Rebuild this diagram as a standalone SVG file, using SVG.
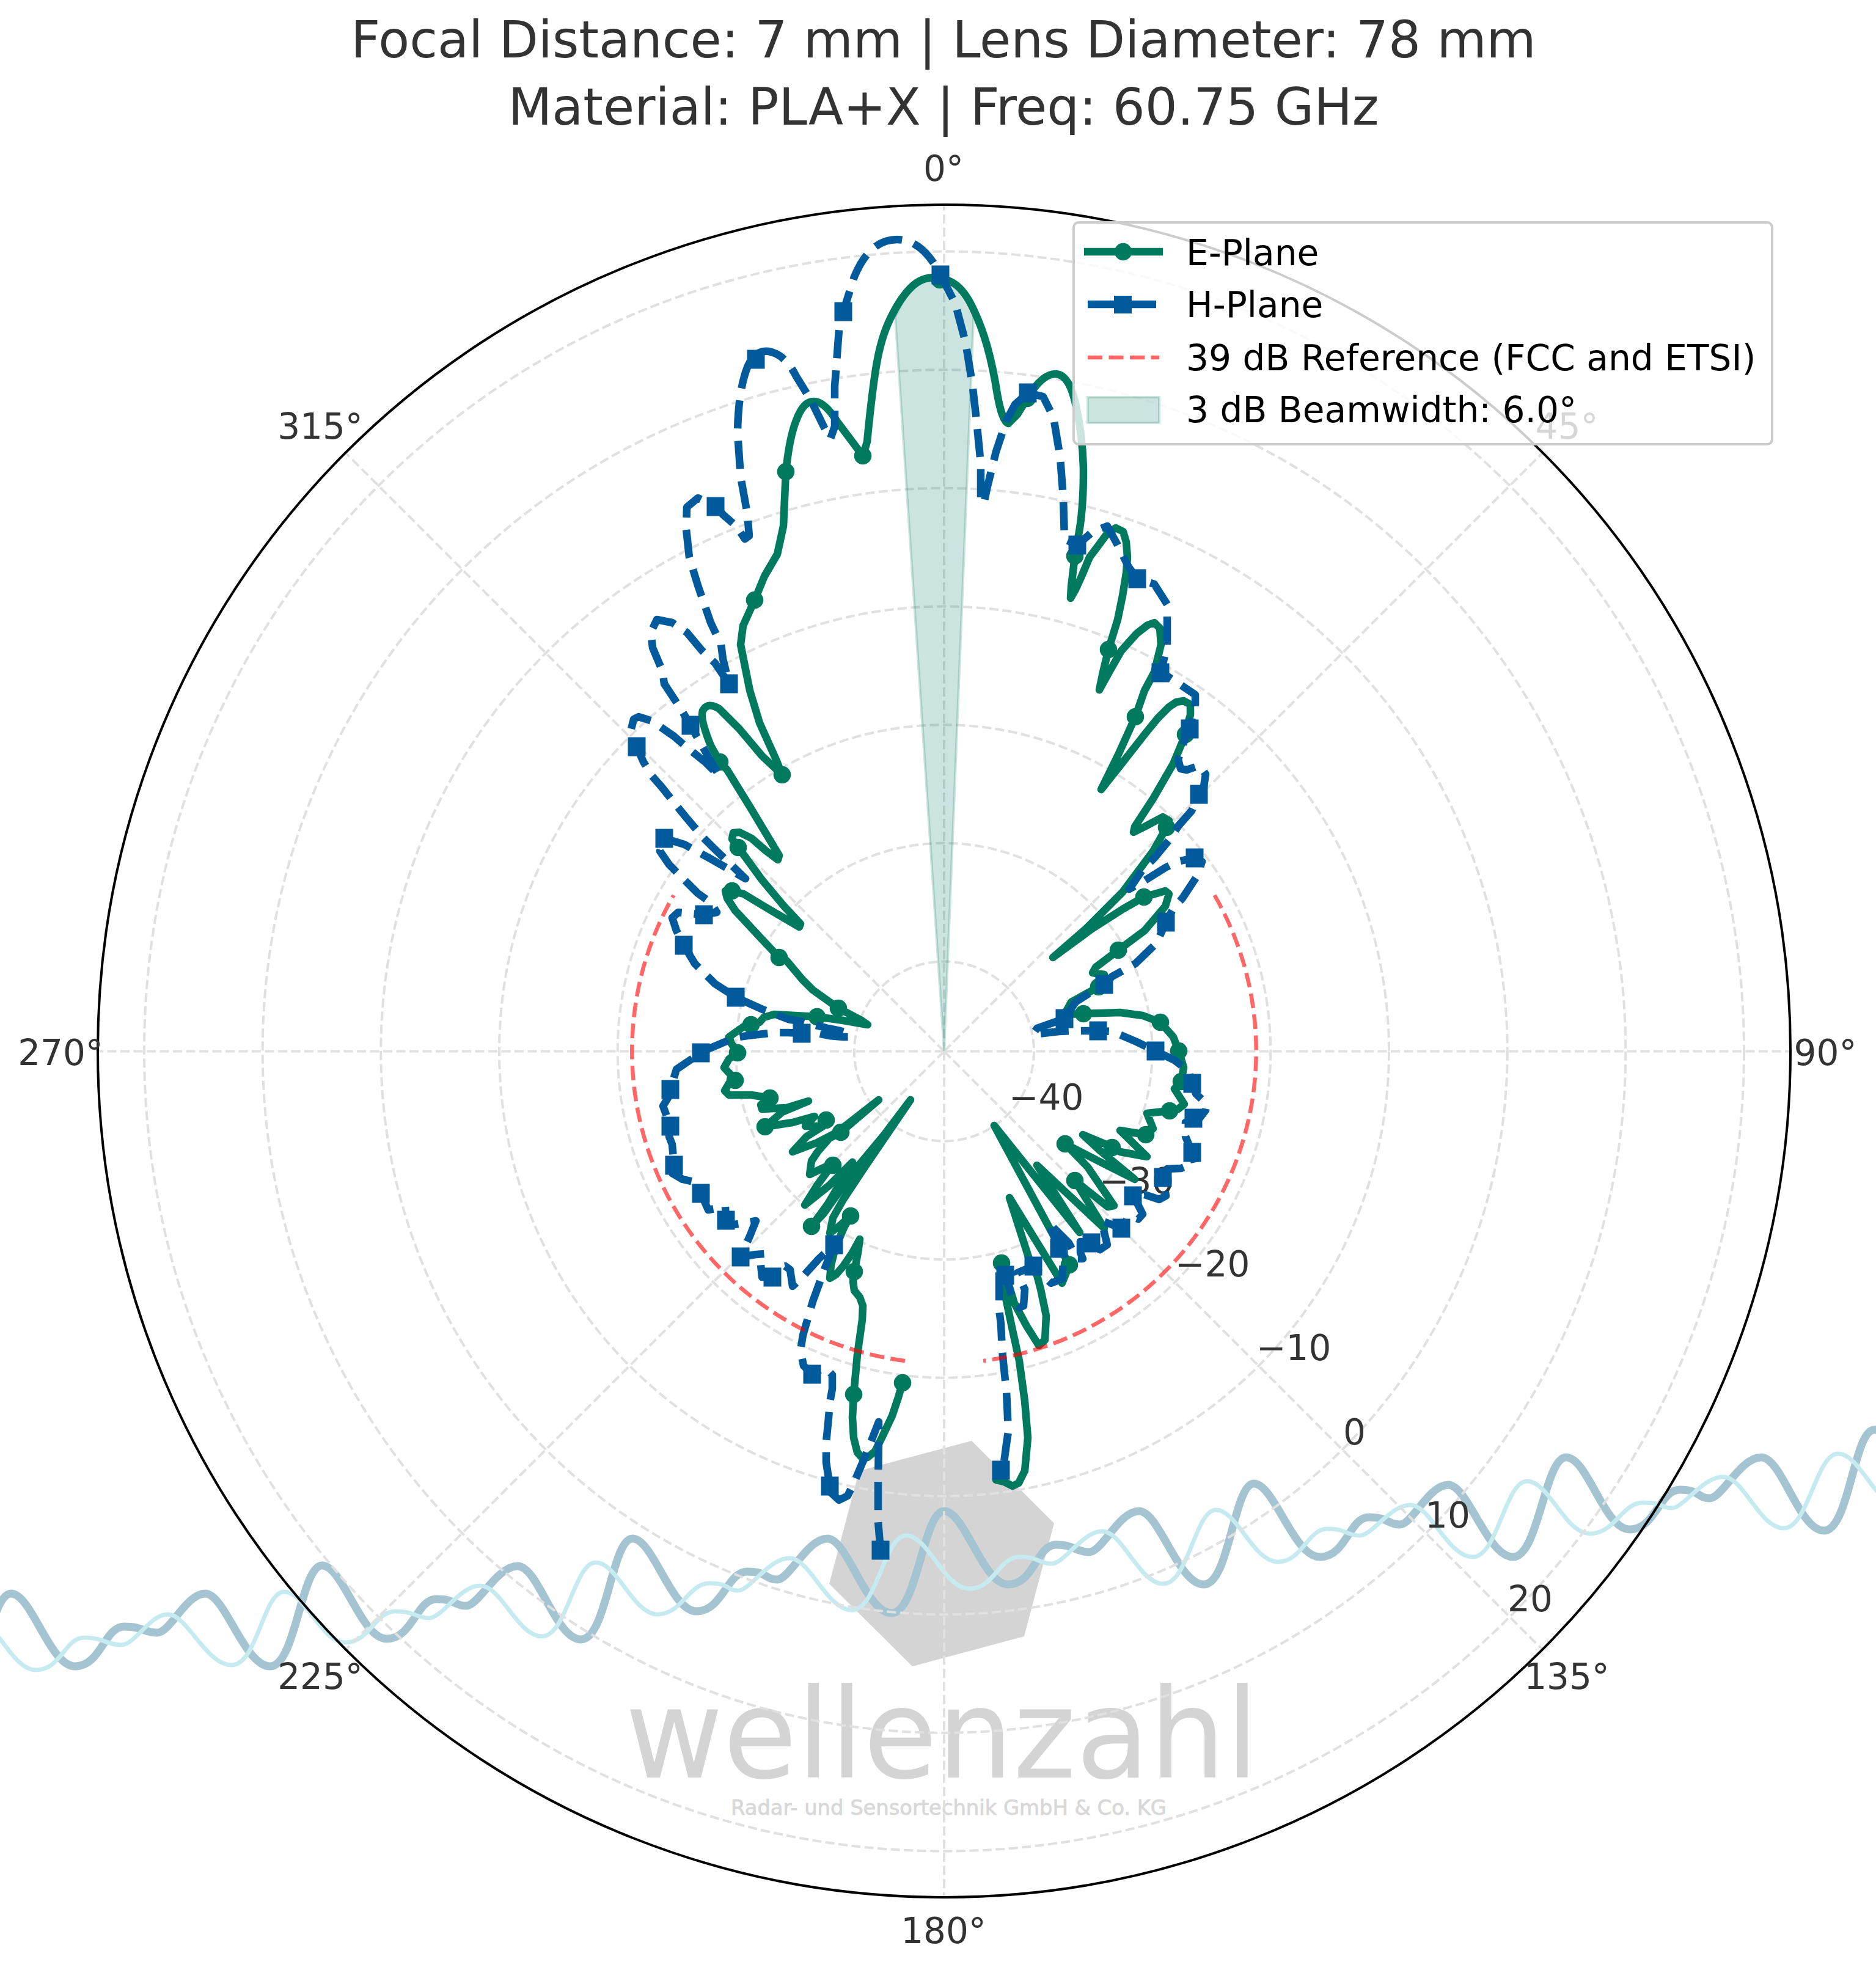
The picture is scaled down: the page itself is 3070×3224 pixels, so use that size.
<svg xmlns="http://www.w3.org/2000/svg" xmlns:xlink="http://www.w3.org/1999/xlink" width="3070" height="3224" viewBox="0 0 3070 3224">
<style>
text{font-family:"DejaVu Sans","Liberation Sans",sans-serif}
.title{font-size:83.3px;fill:#333;text-anchor:middle}
.tick{font-size:58px;fill:#333;text-anchor:middle}
.rtick{font-size:58px;fill:#333}
.leg{font-size:58.2px;fill:#000}
.grid{fill:none;stroke:#e0e0e0;stroke-width:4;stroke-dasharray:15 6.5}
.e{fill:none;stroke:#007a5e;stroke-width:12.5;stroke-linejoin:round;stroke-linecap:round}
.h{fill:none;stroke:#005a9c;stroke-width:12.5;stroke-linejoin:round;stroke-dasharray:46 20}
.ref{fill:none;stroke:#f00;stroke-opacity:.6;stroke-width:6.5;stroke-dasharray:24 10.5}
.em{fill:#007a5e}
.hm{fill:#005a9c}
</style>
<defs>
<circle id="c" r="14.3"/>
<rect id="s" x="-14.5" y="-15.5" width="29" height="31"/>
</defs>
<rect width="3070" height="3224" fill="#fff"/>
<g id="watermark">
<polygon points="1590,2358 1725,2493 1676,2678 1493,2727 1357,2592 1406,2407" fill="#d4d4d4"/>
<path fill="none" stroke="#a5c4d2" stroke-width="13" d="M-67 2773C-30 2773 -16 2608 18 2608S81 2727 123 2727S171 2662 203 2662S235 2672 257 2672S304 2608 336 2608S400 2727 442 2727S493 2562 527 2562S591 2682 633 2682S682 2617 714 2617S743 2628 763 2628S813 2563 847 2563S909 2683 951 2683S1001 2518 1035 2518S1098 2637 1140 2637S1190 2572 1223 2572S1252 2585 1272 2585S1321 2518 1354 2518S1417 2640 1459 2640S1511 2473 1545 2473S1608 2593 1650 2593S1697 2528 1728 2528S1760 2540 1782 2540S1831 2473 1864 2473S1928 2593 1970 2593S2019 2428 2052 2428S2117 2548 2160 2548S2208 2483 2240 2483S2271 2495 2291 2495S2338 2430 2370 2430S2434 2548 2476 2548S2528 2385 2563 2385S2625 2503 2667 2503S2716 2438 2749 2438S2778 2452 2798 2452S2848 2385 2882 2385S2944 2505 2985 2505S3034 2340 3067 2340S3117 2300 3150 2300"/>
<path fill="none" stroke="#c5ebf0" stroke-width="7" d="M-44 2650C-4 2650 18 2733 59 2733S106 2680 138 2680S174 2692 198 2692S244 2642 275 2642S337 2725 379 2725S431 2605 465 2605S525 2688 565 2688S614 2637 647 2637S680 2648 702 2648S752 2595 786 2595S847 2678 887 2678S940 2557 975 2557S1036 2642 1076 2642S1127 2591 1161 2591S1189 2603 1208 2603S1258 2550 1292 2550S1353 2635 1394 2635S1447 2513 1483 2513S1545 2600 1586 2600S1635 2548 1668 2548S1700 2559 1721 2559S1771 2506 1804 2506S1864 2592 1904 2592S1956 2471 1990 2471S2051 2556 2091 2556S2140 2502 2172 2502S2204 2513 2225 2513S2275 2463 2308 2463S2369 2548 2410 2548S2463 2424 2499 2424S2561 2510 2602 2510S2654 2459 2689 2459S2717 2468 2736 2468S2786 2417 2820 2417S2879 2501 2919 2501S2972 2379 3008 2379S3069 2465 3110 2465"/>
<text x="1023" y="2909" font-size="203" fill="#d4d4d4" textLength="1037" lengthAdjust="spacingAndGlyphs">wellenzahl</text>
<text x="1196" y="2970" font-size="34" fill="#d8d8d8" stroke="#d8d8d8" stroke-width=".8" textLength="713" lengthAdjust="spacingAndGlyphs">Radar- und Sensortechnik GmbH &amp; Co. KG</text>
</g>
<g id="grid">
<circle class="grid" cx="1545" cy="1720.5" r="147"/>
<circle class="grid" cx="1545" cy="1720.5" r="340.7"/>
<circle class="grid" cx="1545" cy="1720.5" r="534.3"/>
<circle class="grid" cx="1545" cy="1720.5" r="728"/>
<circle class="grid" cx="1545" cy="1720.5" r="921.7"/>
<circle class="grid" cx="1545" cy="1720.5" r="1115.3"/>
<circle class="grid" cx="1545" cy="1720.5" r="1309"/>
<path class="grid" d="M1545 1720.5V335.5M1545 1720.5L2524 741.5M1545 1720.5H2930M1545 1720.5L2524 2699.5M1545 1720.5V3105.5M1545 1720.5L566 2699.5M1545 1720.5H160M1545 1720.5L566 741.5"/>
</g>
<circle id="spine" cx="1545" cy="1720" r="1385" fill="none" stroke="#000" stroke-width="4"/>
<g id="tick-labels">
<text class="tick" x="1544" y="296">0°</text>
<text class="tick" x="2564" y="718">45°</text>
<text class="tick" x="2987" y="1743">90°</text>
<text class="tick" x="2564" y="2764">135°</text>
<text class="tick" x="1544" y="3180">180°</text>
<text class="tick" x="524" y="2764">225°</text>
<text class="tick" x="99" y="1743">270°</text>
<text class="tick" x="524" y="718">315°</text>
<text class="rtick" x="1651" y="1816">−40</text>
<text class="rtick" x="1799" y="1953">−30</text>
<text class="rtick" x="1923" y="2089">−20</text>
<text class="rtick" x="2056" y="2226">−10</text>
<text class="rtick" x="2198" y="2364">0</text>
<text class="rtick" x="2332" y="2500">10</text>
<text class="rtick" x="2467" y="2637">20</text>
</g>
<g id="connectors">
<polygon id="beamwidth" points="1545,1720 1465,519 1482,484 1500,467 1524,456 1538,456 1552,460 1566,468 1581,485 1593,507 1593,524" fill="#007a5e" fill-opacity=".2" stroke="#007a5e" stroke-opacity=".2" stroke-width="4"/>
<path id="e-plane" class="e" d="M1477,2263 1470,2287 1460,2317 1443,2353 1432,2375 1420,2385 1412,2387 1403,2377 1397,2353 1395,2320 1397,2282 1403,2217 1411,2160 1412,2137 1407,2123 1398,2112 1396,2097 1398,2081 1404,2050 1407,2028 1395,2050 1380,2072 1368,2086 1358,2092 1360,2070 1365,2050 1373,2028 1382,2007 1392,1990 1373,2007 1358,2018 1363,1993 1380,1963 1413,1913 1490,1800 1447,1857 1397,1917 1347,1987 1328,2007 1355,1970 1395,1902 1357,1940 1317,1972 1337,1940 1357,1913 1363,1907 1350,1910 1325,1922 1328,1900 1338,1885 1357,1863 1376,1853 1438,1800 1370,1853 1337,1870 1297,1885 1320,1860 1347,1843 1352,1833 1343,1843 1318,1843 1333,1827 1297,1837 1252,1844 1280,1820 1323,1802 1287,1813 1247,1815 1245,1808 1260,1797 1230,1792 1193,1792 1186,1785 1193,1773 1203,1768 1195,1758 1185,1747 1193,1733 1207,1723 1197,1708 1193,1697 1217,1680 1229,1677 1243,1673 1250,1665 1267,1660 1337,1664 1380,1670 1420,1677 1410,1670 1372,1650 1330,1620 1313,1603 1287,1572 1275,1567 1243,1533 1203,1490 1190,1470 1187,1458 1198,1458 1217,1463 1250,1483 1308,1517 1310,1512 1283,1483 1247,1440 1220,1403 1208,1387 1198,1373 1200,1363 1210,1362 1230,1372 1253,1392 1273,1407 1275,1400 1257,1370 1227,1320 1190,1260 1178,1247 1163,1220 Q1145,1175 1150,1163 Q1158,1148 1177,1160 L1210,1193 1247,1237 1280,1268 1270,1243 1243,1183 1227,1130 1221,1100 1212,1055 1216,1024 1235,982 1251,943 1272,907 1282,861 1286,772 Q1292,715 1303,688 Q1315,655 1333,657 Q1350,658 1370,690 L1412,746 1419,723 Q1426,650 1433,605 Q1440,560 1453,530 Q1466,500 1483,479 Q1500,458 1519,455 Q1538,452 1556,461 Q1575,470 1590,500 Q1605,530 1615,565 Q1625,600 1632,645 Q1640,690 1650,693 L1665,678 1681,652 Q1705,612 1727,612 Q1750,612 1761,665 Q1772,715 1773,770 Q1773,830 1766,870 L1759,910 1753,960 1752,979 1760,965 1770,943 1783,912 1798,892 1812,873 1826,864 1838,870 1843,887 1845,912 1843,938 1837,975 1829,1014 1814,1063 1805,1100 1799,1129 1815,1100 1835,1065 1860,1037 1878,1023 1889,1019 1898,1028 1900,1055 1889,1100 1873,1130 1858,1173 1830,1235 1802,1292 1833,1253 1855,1225 1877,1197 1895,1175 1913,1157 1925,1149 1937,1147 1948,1153 1948,1170 1945,1180 1940,1202 1920,1250 1887,1307 1857,1353 1855,1362 1873,1353 1903,1337 1913,1343 1909,1354 1887,1393 1837,1460 1777,1520 1723,1567 1787,1520 1837,1488 1872,1468 1907,1458 1913,1463 1907,1483 1873,1523 1830,1555 1793,1583 1788,1592 1807,1595 1798,1615 1780,1625 1753,1640 1742,1660 1773,1659 1833,1657 1870,1662 1899,1673 1920,1697 1929,1720 1937,1747 1933,1770 1922,1782 1938,1807 1928,1815 1914,1818 1877,1822 1887,1847 1875,1857 1833,1850 1877,1893 1833,1885 1820,1877 1772,1857 1800,1883 1857,1930 1817,1910 1743,1872 1780,1910 1823,1973 1813,1975 1759,1932 1807,2010 1697,1907 1767,2017 1627,1842 1750,2070 1738,2100 1652,1960 1683,2057 1691,2075 1697,2087 1703,2110 1712,2153 1710,2193 1700,2202 1680,2170 1660,2133 1650,2100 1639,2067 1645,2120 1657,2177 1668,2227 1677,2293 1682,2353 1677,2407 1667,2427 1657,2432 1643,2425 1630,2422"/>
<g id="e-markers" class="em">
<use href="#c" x="1477" y="2263"/><use href="#c" x="1397" y="2282"/><use href="#c" x="1398" y="2081"/><use href="#c" x="1392" y="1990"/><use href="#c" x="1328" y="2007"/><use href="#c" x="1363" y="1907"/><use href="#c" x="1376" y="1853"/><use href="#c" x="1352" y="1833"/><use href="#c" x="1252" y="1844"/><use href="#c" x="1260" y="1797"/><use href="#c" x="1203" y="1768"/><use href="#c" x="1207" y="1723"/><use href="#c" x="1229" y="1677"/><use href="#c" x="1337" y="1664"/><use href="#c" x="1372" y="1650"/><use href="#c" x="1275" y="1567"/><use href="#c" x="1198" y="1458"/><use href="#c" x="1208" y="1387"/><use href="#c" x="1178" y="1247"/><use href="#c" x="1280" y="1268"/><use href="#c" x="1235" y="982"/><use href="#c" x="1286" y="772"/><use href="#c" x="1412" y="746"/><use href="#c" x="1538" y="458"/><use href="#c" x="1681" y="652"/><use href="#c" x="1759" y="910"/><use href="#c" x="1814" y="1063"/><use href="#c" x="1858" y="1173"/><use href="#c" x="1940" y="1202"/><use href="#c" x="1909" y="1354"/><use href="#c" x="1872" y="1468"/><use href="#c" x="1830" y="1555"/><use href="#c" x="1798" y="1615"/><use href="#c" x="1773" y="1659"/><use href="#c" x="1899" y="1673"/><use href="#c" x="1929" y="1720"/><use href="#c" x="1933" y="1770"/><use href="#c" x="1914" y="1818"/><use href="#c" x="1875" y="1857"/><use href="#c" x="1820" y="1878"/><use href="#c" x="1743" y="1872"/><use href="#c" x="1759" y="1932"/><use href="#c" x="1750" y="2070"/><use href="#c" x="1639" y="2067"/>
</g>
<path id="h-plane" class="h" d="M1441,2537 1437,2490 1437,2427 1438,2360 1438,2327 1422,2368 1413,2390 1397,2428 1387,2448 1373,2455 1360,2443 1358,2432 1352,2393 1352,2360 1356,2320 1358,2295 1362,2273 1362,2250 1352,2240 1345,2240 1329,2249 1315,2235 1310,2210 1314,2185 1330,2130 1350,2075 1365,2037 1340,2060 1313,2090 1297,2105 1293,2078 1285,2072 1273,2075 1264,2090 1247,2090 1245,2070 1251,2052 1237,2053 1212,2057 1227,2023 1237,1998 1215,2002 1195,2005 1188,1997 1187,1975 1159,1980 1147,1953 1140,1935 1117,1930 1100,1920 1103,1907 1100,1873 1095,1860 1097,1843 1085,1810 1093,1797 1097,1783 1107,1750 1147,1723 1163,1715 1203,1698 1223,1695 1268,1690 1290,1690 1312,1691 1333,1690 1357,1695 1380,1697 1392,1697 1387,1690 1375,1687 1355,1683 1313,1672 1290,1668 1248,1652 1228,1643 1204,1632 1170,1610 1137,1577 1119,1547 1107,1523 1100,1502 1110,1493 1152,1497 1173,1493 1163,1477 1142,1462 1127,1447 1095,1415 1080,1393 1087,1372 1120,1382 1162,1405 1220,1438 1168,1388 1150,1370 1123,1338 1110,1322 1082,1287 1067,1270 1053,1247 1042,1222 1032,1197 1037,1177 1045,1173 1067,1180 1103,1205 1118,1218 1155,1248 1177,1270 1160,1240 1140,1205 1130,1187 1114,1160 1087,1119 1084,1098 1068,1060 1065,1035 1075,1014 1100,1019 1124,1035 1149,1065 1170,1085 1193,1119 1183,1078 1180,1055 1163,1019 1142,958 1128,912 1123,866 1124,830 1142,815 1171,829 1184,843 1205,861 1219,882 1226,877 1223,841 1212,780 1207,708 Q1208,640 1223,601 Q1235,572 1258,575 Q1285,580 1303,616 Q1318,640 1328,657 L1349,700 1359,718 1366,698 1366,632 1373,540 1380,510 1398,453 Q1423,392 1468,392 Q1510,392 1539,450 L1563,496 1580,560 1591,627 1598,688 1605,759 1605,815 1610,825 1615,800 1630,739 1647,688 1661,662 1682,643 1707,649 1724,683 1735,749 1740,815 1742,882 1763,892 1787,871 1812,861 1829,892 1847,928 1861,947 1889,956 1910,989 1910,1055 1900,1100 1922,1114 1956,1137 1956,1157 1946,1194 1935,1220 1928,1243 1932,1258 1942,1260 1963,1253 1973,1267 1970,1287 1962,1300 1950,1327 1928,1352 1917,1370 1890,1403 1870,1423 1848,1455 1870,1443 1907,1420 1927,1410 1955,1404 1967,1410 1960,1432 1935,1470 1920,1487 1908,1509 1893,1543 1858,1577 1840,1587 1820,1598 1807,1611 1780,1627 1760,1640 1742,1667 1697,1683 1690,1693 1733,1688 1755,1687 1797,1687 1820,1688 1860,1705 1891,1720 1922,1735 1945,1753 1951,1773 1957,1790 1975,1807 1973,1817 1963,1830 1953,1830 1940,1837 1940,1860 1947,1877 1951,1886 1955,1903 1933,1912 1910,1913 1903,1927 1908,1957 1897,1963 1873,1955 1854,1957 1863,1973 1870,1987 1863,1995 1848,1990 1835,2010 1803,1998 1807,2017 1812,2037 1800,2045 1786,2034 1768,2032 1768,2050 1772,2060 1763,2060 1749,2034 1716,2001 1733,2043 1740,2065 1738,2093 1720,2100 1702,2083 1691,2072 1665,2083 1677,2110 1675,2137 1668,2140 1657,2125 1645,2087 1635,2070 1635,2143 1638,2167 1640,2210 1643,2240 1647,2277 1648,2297 1650,2343 1647,2363 1643,2393 1638,2406"/>
<g id="h-markers" class="hm">
<use href="#s" x="1441" y="2537"/><use href="#s" x="1358" y="2432"/><use href="#s" x="1329" y="2249"/><use href="#s" x="1365" y="2037"/><use href="#s" x="1264" y="2090"/><use href="#s" x="1212" y="2057"/><use href="#s" x="1188" y="1997"/><use href="#s" x="1147" y="1953"/><use href="#s" x="1103" y="1907"/><use href="#s" x="1097" y="1843"/><use href="#s" x="1097" y="1783"/><use href="#s" x="1147" y="1723"/><use href="#s" x="1312" y="1691"/><use href="#s" x="1204" y="1632"/><use href="#s" x="1119" y="1547"/><use href="#s" x="1152" y="1497"/><use href="#s" x="1087" y="1372"/><use href="#s" x="1042" y="1222"/><use href="#s" x="1130" y="1187"/><use href="#s" x="1193" y="1119"/><use href="#s" x="1171" y="829"/><use href="#s" x="1237" y="588"/><use href="#s" x="1380" y="510"/><use href="#s" x="1539" y="450"/><use href="#s" x="1682" y="643"/><use href="#s" x="1763" y="892"/><use href="#s" x="1861" y="947"/><use href="#s" x="1899" y="1101"/><use href="#s" x="1947" y="1193"/><use href="#s" x="1962" y="1300"/><use href="#s" x="1955" y="1404"/><use href="#s" x="1908" y="1509"/><use href="#s" x="1807" y="1611"/><use href="#s" x="1742" y="1667"/><use href="#s" x="1797" y="1687"/><use href="#s" x="1891" y="1720"/><use href="#s" x="1951" y="1773"/><use href="#s" x="1953" y="1830"/><use href="#s" x="1951" y="1886"/><use href="#s" x="1903" y="1927"/><use href="#s" x="1854" y="1957"/><use href="#s" x="1835" y="2010"/><use href="#s" x="1786" y="2034"/><use href="#s" x="1733" y="2043"/><use href="#s" x="1691" y="2072"/><use href="#s" x="1645" y="2087"/><use href="#s" x="1638" y="2406"/>
</g>
<path id="reference" class="ref" d="M1987.5 1465A511 511 0 0 1 1609 2227M1481 2227A511 511 0 0 1 1102.5 1465"/>
</g>
<g id="title">
<text class="title" x="1544" y="94">Focal Distance: 7 mm | Lens Diameter: 78 mm</text>
<text class="title" x="1544" y="204">Material: PLA+X | Freq: 60.75 GHz</text>
</g>
<g id="legend">
<rect x="1757" y="364" width="1143" height="363" rx="8" fill="#fff" fill-opacity=".8" stroke="#ccc" stroke-width="4"/>
<path d="M1774 412H1903" stroke="#007a5e" stroke-width="12.5"/>
<use href="#c" x="1838" y="412" fill="#007a5e"/>
<path d="M1780 498H1893" stroke="#005a9c" stroke-width="12.5" stroke-dasharray="46 20"/>
<rect x="1823" y="484" width="29" height="29" fill="#005a9c"/>
<path class="ref" d="M1780 585H1897"/>
<rect x="1780" y="650" width="117" height="42" fill="#007a5e" fill-opacity=".2" stroke="#007a5e" stroke-opacity=".2" stroke-width="4"/>
<text class="leg" x="1941" y="434">E-Plane</text>
<text class="leg" x="1941" y="519">H-Plane</text>
<text class="leg" x="1941" y="606">39 dB Reference (FCC and ETSI)</text>
<text class="leg" x="1941" y="691">3 dB Beamwidth: 6.0°</text>
</g>
</svg>
